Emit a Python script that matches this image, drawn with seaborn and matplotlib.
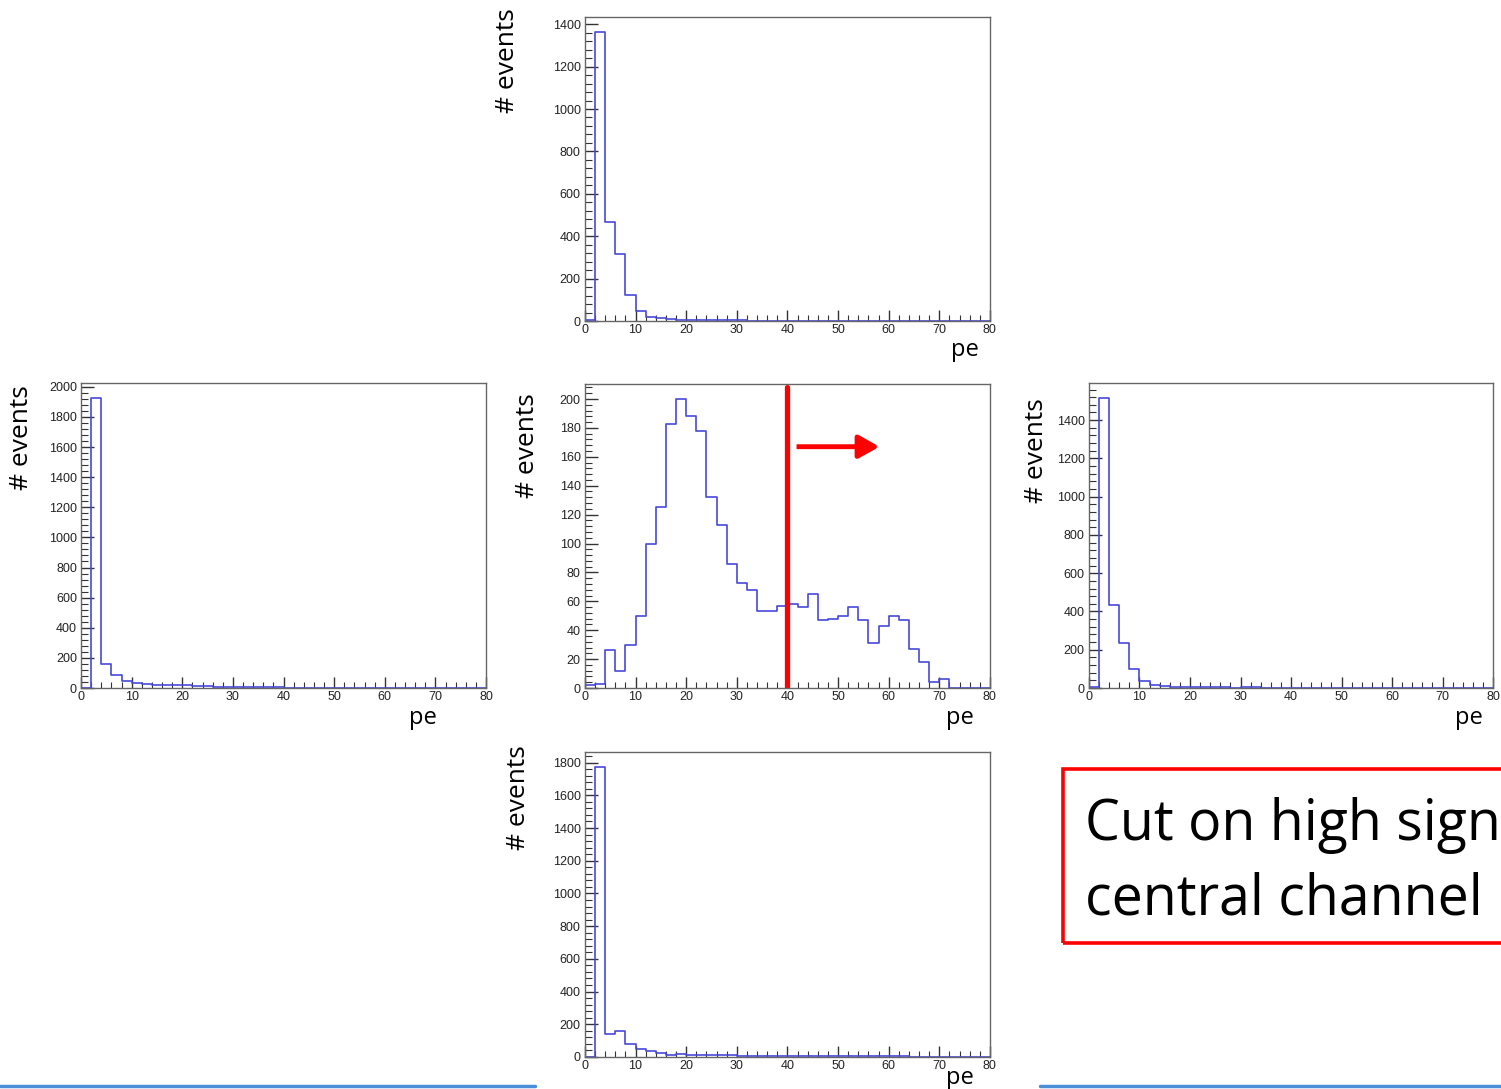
import numpy as np
import pandas as pd
import matplotlib
matplotlib.use("Agg")
import matplotlib.pyplot as plt
from matplotlib.ticker import MultipleLocator
from matplotlib.patches import Rectangle
from matplotlib.lines import Line2D
import seaborn as sns

# ---------------- DATA (counts per 2 pe bin, 0..80) ---------------- #
BIN_WIDTH = 2
PE_RANGE = (0, 80)

top_counts = [5, 1365, 465, 317, 121, 48, 18, 13, 9, 6,
              5, 4, 3, 3, 3, 4, 2, 2, 2, 1,
              1, 1, 1, 1, 1, 1, 1, 1, 1, 1,
              1, 1, 1, 0, 1, 0, 0, 0, 0, 0]
left_counts = [2, 1926, 160, 84, 48, 35, 25, 22, 22, 22,
               20, 16, 12, 8, 10, 10, 9, 5, 4, 4,
               3, 3, 3, 3, 2, 2, 2, 2, 2, 2,
               2, 3, 3, 2, 2, 2, 2, 2, 1, 1]
center_counts = [2, 3, 26, 12, 30, 50, 100, 125, 183, 200,
                 188, 178, 132, 113, 86, 73, 68, 53, 53, 57,
                 58, 56, 65, 47, 48, 50, 56, 47, 31, 43,
                 50, 47, 27, 18, 4, 6, 0, 0, 0, 0]
right_counts = [5, 1514, 434, 236, 100, 39, 18, 8, 6, 4,
                3, 4, 5, 3, 2, 5, 3, 2, 2, 2,
                2, 2, 1, 1, 1, 1, 1, 1, 1, 1,
                1, 1, 1, 1, 1, 1, 1, 1, 1, 1]
bottom_counts = [0, 1773, 143, 158, 78, 47, 37, 26, 15, 18,
                 15, 12, 12, 10, 10, 8, 6, 5, 5, 4,
                 6, 4, 3, 3, 3, 3, 8, 3, 5, 3,
                 3, 3, 2, 2, 2, 2, 2, 2, 1, 1]

CUT_PE = 40
X_LABEL = "pe"
Y_LABEL = "# events"
BOX_LINES = ["Cut on high signal in", "central channel"]

# ---------------- STYLE ---------------- #
HIST_BLUE = "#4848d8"
FRAME = "#666666"

sns.set_style("white")
plt.rcParams['font.family'] = ['Open Sans', 'DejaVu Sans']

fig = plt.figure(figsize=(15.01, 10.89), dpi=100)

# (rect, counts, ymax, major, ylabel xy, xlabel xy)
panels = [
    ([0.3897, 0.7052, 0.2698, 0.2792], top_counts, 1434, 200, (-0.19, 1.03), (0.938, -0.095)),
    ([0.0540, 0.3682, 0.2698, 0.2801], left_counts, 2025, 200, (-0.146, 0.993), (0.844, -0.098)),
    ([0.3897, 0.3682, 0.2698, 0.2792], center_counts, 210.4, 20, (-0.141, 0.97), (0.926, -0.098)),
    ([0.7255, 0.3682, 0.2692, 0.2801], right_counts, 1594, 200, (-0.131, 0.951), (0.94, -0.098)),
    ([0.3897, 0.0294, 0.2698, 0.2801], bottom_counts, 1865, 200, (-0.165, 1.023), (0.926, -0.069)),
]

centers = np.arange(PE_RANGE[0], PE_RANGE[1], BIN_WIDTH) + BIN_WIDTH / 2

axes = []
for rect, counts, ymax, major, ylab_xy, xlab_xy in panels:
    ax = fig.add_axes(rect)
    df = pd.DataFrame({"pe": centers, "n": counts})
    sns.histplot(data=df, x="pe", weights="n", binwidth=BIN_WIDTH, binrange=PE_RANGE,
                 element="step", fill=False, color=HIST_BLUE, linewidth=1.2, ax=ax)
    ax.set_xlim(*PE_RANGE)
    ax.set_ylim(0, ymax)

    # ROOT-like ticks: inside, left/bottom only
    ax.xaxis.set_major_locator(MultipleLocator(10))
    ax.xaxis.set_minor_locator(MultipleLocator(2))
    ax.yaxis.set_major_locator(MultipleLocator(major))
    ax.yaxis.set_minor_locator(MultipleLocator(major / 5))
    ax.tick_params(axis='both', which='both', direction='in', bottom=True, left=True,
                   top=False, right=False, colors="#333333", labelcolor="#222222",
                   labelsize=9)
    ax.tick_params(axis='y', which='major', length=9, width=1, pad=3)
    ax.tick_params(axis='y', which='minor', length=5, width=0.8)
    ax.tick_params(axis='x', which='major', length=8, width=1, pad=2)
    ax.tick_params(axis='x', which='minor', length=4, width=0.8)
    for lab in ax.get_xticklabels() + ax.get_yticklabels():
        lab.set_family(['Liberation Sans', 'DejaVu Sans'])

    for side in ax.spines.values():
        side.set_color(FRAME)
        side.set_linewidth(1)

    ax.set_ylabel(Y_LABEL, fontsize=19, color="black", rotation=90,
                  rotation_mode='anchor', ha='right', va='center')
    ax.yaxis.set_label_coords(*ylab_xy)
    ax.set_xlabel(X_LABEL, fontsize=17, color="black", ha='center', va='center')
    ax.xaxis.set_label_coords(*xlab_xy)
    axes.append(ax)

# cut marker on the central channel
ax_c = axes[2]
ax_c.axvline(CUT_PE, ymin=0, ymax=0.99, color="red", linewidth=3.8)
ax_c.annotate("", xy=(58.2, 167), xytext=(41.8, 167),
              arrowprops=dict(arrowstyle="-|>,head_length=0.9,head_width=0.5",
                              color="red", lw=3.5, mutation_scale=14,
                              shrinkA=0, shrinkB=0, capstyle="butt"))

# text box (runs off the right edge, as on the slide)
fig.add_artist(Rectangle((0.7082, 0.134), 0.35, 0.160, transform=fig.transFigure,
                         fill=False, edgecolor="red", linewidth=2.6))
fig.text(0.7229, 0.2287, BOX_LINES[0], fontsize=40, color="black",
         va='baseline', ha='left')
fig.text(0.7229, 0.1598, BOX_LINES[1], fontsize=40, color="black",
         va='baseline', ha='left')

# slide footer lines
fig.add_artist(Line2D([0, 535 / 1501], [0.0025, 0.0025], transform=fig.transFigure,
                      color="#4a90d9", linewidth=2.5))
fig.add_artist(Line2D([1040 / 1501, 1], [0.0025, 0.0025], transform=fig.transFigure,
                      color="#4a90d9", linewidth=2.5))

fig.savefig("out.png", dpi=100)
